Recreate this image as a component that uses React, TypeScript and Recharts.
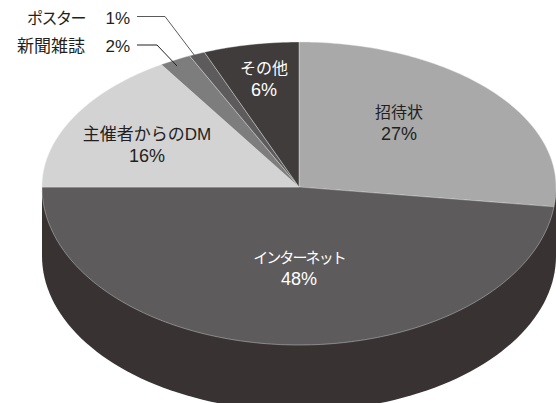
import React from 'react';
import { PieChart, Pie, Cell } from 'recharts';

const categories = ['招待状', 'インターネット', '主催者からのDM', '新聞雑誌', 'ポスター', 'その他'];
const shares = [27, 48, 16, 2, 1, 6];
const sliceColors = ['#a9a9a9', '#5d5b5c', '#d3d3d3', '#7d7d7d', '#5d5b5c', '#403c3b'];
const labelColors = ['#231f20', '#ffffff', '#231f20', '#231f20', '#231f20', '#ffffff'];

const data = categories.map((name, i) => ({ name, value: shares[i] }));

const FONT = '"Liberation Sans", "Noto Sans CJK JP", sans-serif';
const CX = 299;
const CY = 187;
const RX = 257;
const RY_TOP = 145;
const RY_FRONT = 158;
const WALL_CY = 256;
const WALL_RY = 155;
const WALL_COLOR = '#383332';

// label anchors by slice, null for the two slices labelled outside the pie
const insideAnchors = [[399, 118], [299, 263], [147, 140], null, null, [264, 74]];
const nameSizes = [16, 15, 17, 17, 16, 16];
const nameSpacing = [0, -1.9, 0, 0, -1.5, 0];
const outsideRows = { 3: 52, 4: 24 } as Record<number, number>;
const leaders = {
  3: { points: '137,45 157,45 177,66', stroke: '#231f20' },
  4: { points: '137,16.5 165,16.5 198,60', stroke: '#5a5a5a' },
} as Record<number, { points: string; stroke: string }>;

// recharts angles: 0 = east, counter-clockwise. The back half of the pie is flatter than the front.
const onEllipse = (deg: number) => {
  const rad = (deg * Math.PI) / 180;
  const sin = Math.sin(rad);
  return { x: CX + RX * Math.cos(rad), y: CY - sin * (sin > 0 ? RY_TOP : RY_FRONT) };
};

const sectorPath = (startAngle: number, endAngle: number) => {
  const step = startAngle > endAngle ? -1 : 1;
  let d = `M${CX},${CY}`;
  const n = Math.ceil(Math.abs(endAngle - startAngle));
  for (let i = 0; i <= n; i++) {
    const p = onEllipse(i === n ? endAngle : startAngle + i * step);
    d += `L${p.x.toFixed(2)},${p.y.toFixed(2)}`;
  }
  return d + 'Z';
};

const TopSlice = (props: any) => (
  <path
    d={sectorPath(props.startAngle, props.endAngle)}
    fill={props.fill}
    stroke="#e8e8e8"
    strokeWidth={0.4}
  />
);

const wallPath = () => {
  let d = `M${CX - RX},${CY}`;
  for (let a = 180; a <= 360; a += 2) {
    const rad = (a * Math.PI) / 180;
    d += `L${(CX + RX * Math.cos(rad)).toFixed(2)},${(WALL_CY - WALL_RY * Math.sin(rad)).toFixed(2)}`;
  }
  return d + `L${CX + RX},${CY}Z`;
};

// pie labels sit above the slices, plain chart children do not
const renderLabel = ({ index }: any) => {
  const anchor = insideAnchors[index];
  const color = labelColors[index];
  const nameStyle = { fontSize: nameSizes[index], letterSpacing: nameSpacing[index] };
  if (anchor) {
    const [x, y] = anchor;
    return (
      <text x={x} y={y} textAnchor="middle" fontFamily={FONT} fill={color}>
        <tspan x={x} style={nameStyle}>{categories[index]}</tspan>
        <tspan x={x} dy={22} fontSize={18}>{`${shares[index]}%`}</tspan>
      </text>
    );
  }
  const y = outsideRows[index];
  return (
    <g>
      <polyline points={leaders[index].points} fill="none" stroke={leaders[index].stroke} strokeWidth={1} />
      <text x={85} y={y} textAnchor="end" fontFamily={FONT} fill={color} style={nameStyle}>{categories[index]}</text>
      <text x={130} y={y} textAnchor="end" fontFamily={FONT} fontSize={17} fill={color}>{`${shares[index]}%`}</text>
    </g>
  );
};

export default function App() {
  return (
    <div style={{ position: 'absolute', left: 0, top: 0, width: 556, height: 403, overflow: 'hidden', background: '#fff' }}>
      <PieChart width={556} height={403} margin={{ top: 0, right: 0, bottom: 0, left: 0 }}>
        <path d={wallPath()} fill={WALL_COLOR} />
        <Pie
          data={data}
          dataKey="value"
          cx={CX}
          cy={CY}
          outerRadius={RX}
          startAngle={90}
          endAngle={-270}
          isAnimationActive={false}
          shape={TopSlice}
          stroke="none"
          label={renderLabel}
          labelLine={false}
        >
          {data.map((d, i) => (
            <Cell key={d.name} fill={sliceColors[i]} />
          ))}
        </Pie>
      </PieChart>
    </div>
  );
}
